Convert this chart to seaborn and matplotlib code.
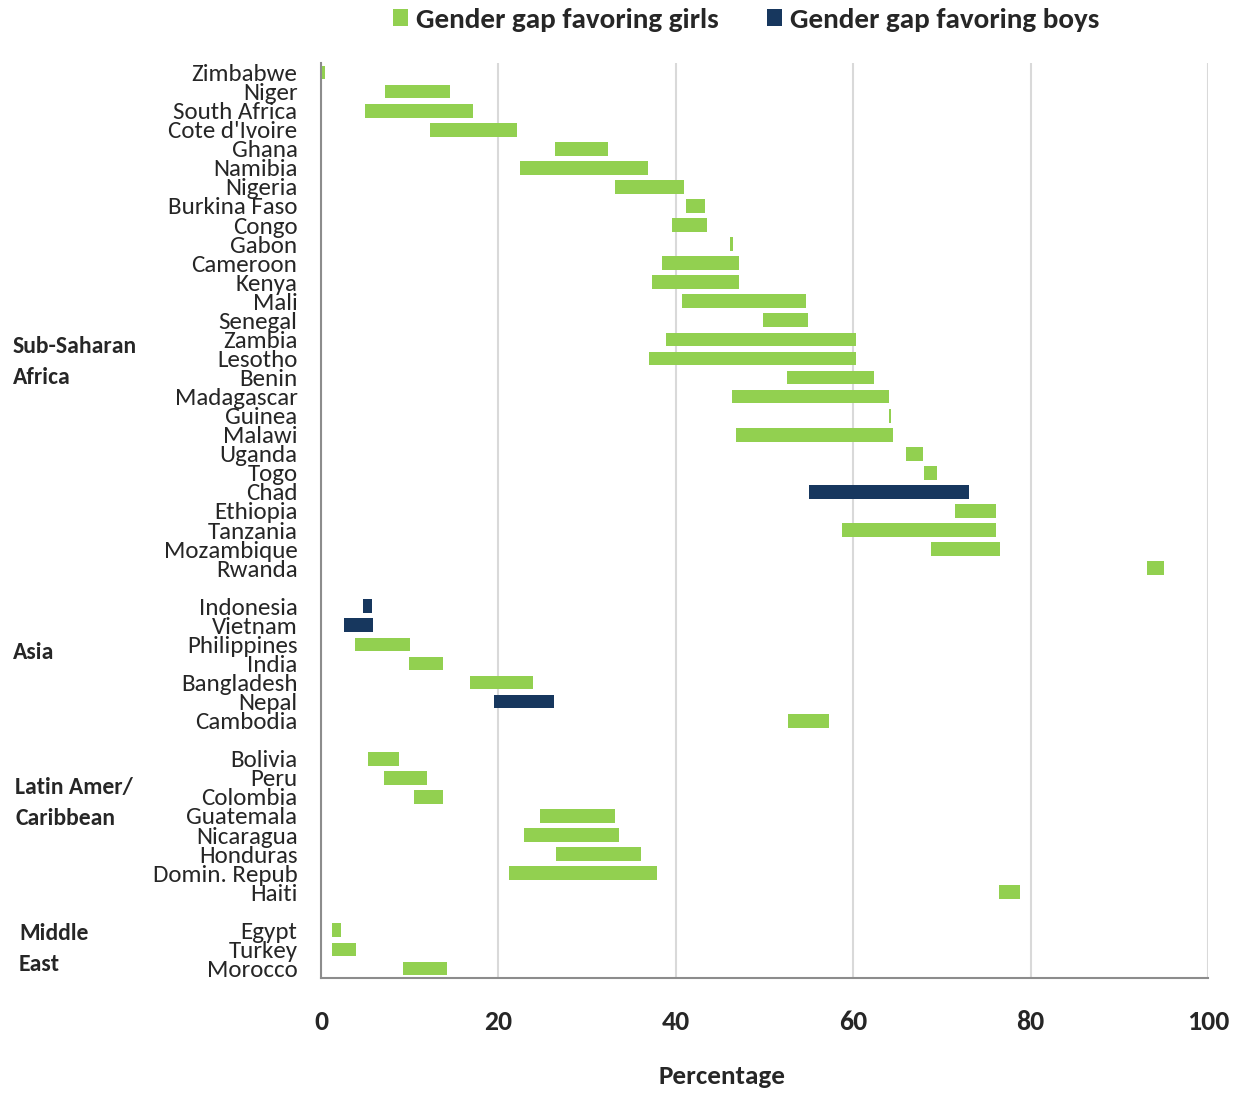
import matplotlib
matplotlib.use("Agg")
import matplotlib.pyplot as plt
from matplotlib.patches import Patch
import numpy as np
import pandas as pd
import seaborn as sns

# ---- data -------------------------------------------------------------
regions = ["Sub-Saharan\nAfrica", "Asia", "Latin Amer/\nCaribbean", "Middle\nEast"]

ssa_countries = ["Zimbabwe", "Niger", "South Africa", "Cote d'Ivoire", "Ghana", "Namibia",
                 "Nigeria", "Burkina Faso", "Congo", "Gabon", "Cameroon", "Kenya", "Mali",
                 "Senegal", "Zambia", "Lesotho", "Benin", "Madagascar", "Guinea", "Malawi",
                 "Uganda", "Togo", "Chad", "Ethiopia", "Tanzania", "Mozambique", "Rwanda"]
ssa_low = [0.1, 7.2, 5.0, 12.3, 26.4, 22.4, 33.1, 41.2, 39.6, 46.1, 38.4, 37.3, 40.7,
           49.8, 38.9, 37.0, 52.5, 46.3, 64.0, 46.8, 66.0, 68.0, 55.0, 71.5, 58.7, 68.8, 93.1]
ssa_high = [0.45, 14.5, 17.1, 22.1, 32.4, 36.9, 40.9, 43.3, 43.5, 46.4, 47.1, 47.1, 54.7,
            54.9, 60.3, 60.3, 62.3, 64.0, 64.3, 64.5, 67.9, 69.5, 73.1, 76.1, 76.1, 76.6, 95.0]
ssa_favors = ["girls"] * 22 + ["boys"] + ["girls"] * 4

asia_countries = ["Indonesia", "Vietnam", "Philippines", "India", "Bangladesh", "Nepal", "Cambodia"]
asia_low = [4.7, 2.6, 3.8, 9.9, 16.8, 19.5, 52.7]
asia_high = [5.7, 5.9, 10.0, 13.8, 23.9, 26.3, 57.3]
asia_favors = ["boys", "boys", "girls", "girls", "girls", "boys", "girls"]

lac_countries = ["Bolivia", "Peru", "Colombia", "Guatemala", "Nicaragua", "Honduras",
                 "Domin. Repub", "Haiti"]
lac_low = [5.3, 7.1, 10.5, 24.7, 22.9, 26.5, 21.2, 76.4]
lac_high = [8.8, 12.0, 13.8, 33.1, 33.6, 36.1, 37.9, 78.8]
lac_favors = ["girls"] * 8

me_countries = ["Egypt", "Turkey", "Morocco"]
me_low = [1.2, 1.2, 9.2]
me_high = [2.2, 4.0, 14.2]
me_favors = ["girls"] * 3

xticks = [0, 20, 40, 60, 80, 100]
legend_labels = {"girls": "Gender gap favoring girls", "boys": "Gender gap favoring boys"}
colors = {"girls": "#92D050", "boys": "#17375E"}

# ---- table: one row per country, a blank slot between regions ----------
groups = [
    (regions[0], ssa_countries, ssa_low, ssa_high, ssa_favors),
    (regions[1], asia_countries, asia_low, asia_high, asia_favors),
    (regions[2], lac_countries, lac_low, lac_high, lac_favors),
    (regions[3], me_countries, me_low, me_high, me_favors),
]
rows = []
region_spans = []
pos = 0
for region, names, lo, hi, fav in groups:
    first = pos
    for n, a, b, f in zip(names, lo, hi, fav):
        rows.append(dict(country=n, region=region, pos=pos, low=a, high=b, favors=f))
        pos += 1
    region_spans.append((region, first, pos - 1))
    pos += 1  # spacer between regions
df = pd.DataFrame(rows)
df["span"] = df["high"] - df["low"]
last_slot = df["pos"].max()

# ---- figure -------------------------------------------------------------
sns.set_theme(style="white")
plt.rcParams["font.family"] = ["Carlito", "Liberation Sans Narrow", "DejaVu Sans"]

W, H = 1248, 1093
fig = plt.figure(figsize=(W / 100, H / 100), dpi=100)
ax = fig.add_axes([321 / W, 1 - 978 / H, (1208 - 321) / W, (978 - 63) / H])

for key in ["girls", "boys"]:
    sub = df[df["favors"] == key].sort_values("pos")
    sns.barplot(data=sub, x="span", y="pos", orient="y", native_scale=True,
                left=sub["low"].to_numpy(), color=colors[key], saturation=1,
                width=0.72, errorbar=None, linewidth=0, ax=ax)

ax.set_xlim(0, 100)
ax.set_ylim(last_slot + 0.5, -0.5)
ax.set_xticks(xticks)
ax.set_xticklabels([str(t) for t in xticks], fontsize=20, fontweight="bold")
ax.set_yticks(df["pos"])
ax.set_yticklabels(df["country"], fontsize=18)
ax.tick_params(axis="y", length=0, pad=17)
ax.tick_params(axis="x", length=5, width=1.4, color="#8C8C8C", pad=18, direction="out")
ax.set_ylabel("")
ax.set_xlabel("")

ax.grid(axis="x", color="#D9D9D9", linewidth=1.5)
ax.grid(axis="y", visible=False)
ax.set_axisbelow(True)
for side in ["top", "right"]:
    ax.spines[side].set_visible(False)
for side in ["left", "bottom"]:
    ax.spines[side].set_color("#8C8C8C")
    ax.spines[side].set_linewidth(1.5)

fig.text(722 / W, 1 - 1077 / H, "Percentage", ha="center", va="center",
         fontsize=19.5, fontweight="bold")

# region labels to the left of the country names
trans = matplotlib.transforms.blended_transform_factory(fig.transFigure, ax.transData)
region_x = {regions[0]: 13, regions[1]: 13, regions[2]: 15, regions[3]: 19}
region_shift = {regions[0]: 2.2, regions[1]: -0.6, regions[2]: -1.2, regions[3]: 0.0}
for region, first, last in region_spans:
    lines = region.split("\n")
    center = (first + last) / 2 + region_shift[region]
    offsets = [0.0] if len(lines) == 1 else [-0.81, 0.81]
    for line, off in zip(lines, offsets):
        ax.text(region_x[region] / W, center + off, line, transform=trans,
                ha="left", va="center", fontsize=17, fontweight="bold", clip_on=False)

handles = [Patch(facecolor=colors[k], edgecolor="none", label=legend_labels[k])
           for k in ["girls", "boys"]]
fig.legend(handles=handles, loc="center", bbox_to_anchor=(746 / W, 1 - 20 / H), ncol=2,
           frameon=False, handlelength=0.52, handleheight=0.52, handletextpad=0.28,
           columnspacing=1.65, prop=dict(size=21, weight="bold"))

fig.savefig("out.png", dpi=100)
